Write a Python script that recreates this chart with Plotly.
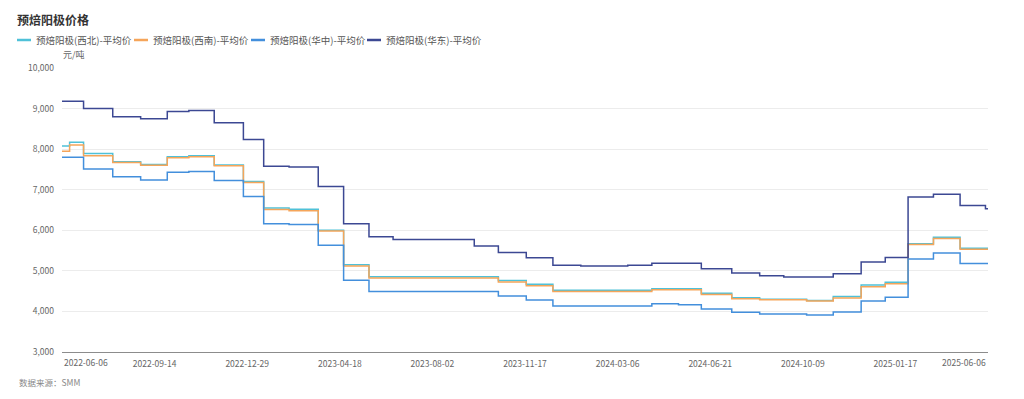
import plotly.graph_objects as go

# x positions are trading-day indices along the category axis (0 .. 730)
tick_idx = [0, 73, 146, 219, 292, 365, 438, 511, 584, 657, 730]
tick_labels = ["2022-06-06", "2022-09-14", "2022-12-29", "2023-04-18", "2023-08-02",
               "2023-11-17", "2024-03-06", "2024-06-21", "2024-10-09", "2025-01-17", "2025-06-06"]
x_end = 730

nw_x = [0, 6, 17, 40, 62, 83, 100, 120, 143, 159, 179, 202, 222, 242, 344, 366, 387,
        465, 504, 528, 550, 587, 608, 630, 649, 667, 687, 708]
nw_v = [8080, 8170, 7895, 7690, 7620, 7810, 7840, 7610, 7200, 6550, 6520, 6000, 5150, 4855,
        4760, 4670, 4520, 4560, 4445, 4340, 4300, 4270, 4365, 4650, 4720, 5670, 5830, 5560]

sw_x = [0, 6, 17, 40, 62, 83, 100, 120, 143, 159, 179, 202, 222, 242, 344, 366, 387,
        465, 504, 528, 550, 587, 608, 630, 649, 667, 687, 708]
sw_v = [7950, 8100, 7840, 7670, 7600, 7790, 7815, 7590, 7180, 6510, 6480, 5980, 5120, 4825,
        4725, 4635, 4490, 4535, 4420, 4315, 4290, 4255, 4330, 4610, 4680, 5650, 5800, 5530]

cc_x = [0, 17, 40, 62, 83, 100, 120, 143, 159, 179, 202, 222, 242, 344, 366, 387,
        465, 486, 504, 528, 550, 587, 608, 630, 649, 667, 687, 708]
cc_v = [7800, 7510, 7320, 7240, 7430, 7450, 7230, 6830, 6160, 6140, 5630, 4770, 4490,
        4380, 4280, 4135, 4190, 4165, 4060, 3980, 3935, 3910, 3985, 4260, 4350, 5290, 5440, 5180]

ea_x = [0, 17, 40, 62, 83, 100, 120, 143, 159, 179, 202, 222, 242, 261, 325, 344, 366, 387,
        409, 446, 465, 504, 528, 550, 569, 608, 630, 649, 667, 687, 708, 728]
ea_v = [9180, 9000, 8800, 8750, 8930, 8950, 8650, 8240, 7580, 7560, 7080, 6160, 5840, 5770,
        5610, 5450, 5320, 5140, 5120, 5140, 5190, 5050, 4950, 4880, 4850, 4930, 5220, 5330,
        6820, 6890, 6610, 6530]

names = ["预焙阳极(西北)-平均价", "预焙阳极(西南)-平均价", "预焙阳极(华中)-平均价", "预焙阳极(华东)-平均价"]
colors = ["#4fc1d8", "#f5a55a", "#438fdc", "#3c4893"]
xs_all = [nw_x, sw_x, cc_x, ea_x]
vs_all = [nw_v, sw_v, cc_v, ea_v]

FONT = "Noto Sans CJK SC"

# page-pixel helpers (the page body adds an 8px offset)
OFF = 8
PL, PR, PT, PB = 62, 988, 68, 352


def px(x):
    return (x - PL) / (PR - PL)


def py(y):
    return (PB - y) / (PB - PT)


fig = go.Figure()
for name, xs, vs, col in zip(names, xs_all, vs_all, colors):
    fig.add_trace(go.Scatter(
        x=list(xs) + [x_end], y=list(vs) + [vs[-1]], mode="lines", name=name,
        line=dict(color=col, width=1.5, shape="hv"),
    ))

# manual legend (short line symbols like the reference)
leg_line_x = [17, 134, 251, 367]
shapes = []
annotations = []
for i, (name, col) in enumerate(zip(names, colors)):
    x0 = leg_line_x[i]
    shapes.append(dict(type="line", xref="paper", yref="paper",
                       x0=px(x0), x1=px(x0 + 14), y0=py(40), y1=py(40),
                       line=dict(color=col, width=2.5)))
    annotations.append(dict(text=name, xref="paper", yref="paper", x=px(x0 + 17), y=py(40),
                            xanchor="left", yanchor="middle", showarrow=False,
                            font=dict(size=9.5, color="#555", family=FONT)))

annotations += [
    dict(text="元/吨", xref="paper", yref="paper", x=px(61), y=py(55), xanchor="left",
         yanchor="middle", showarrow=False, font=dict(size=9, color="#666")),
    dict(text=tick_labels[0], xref="x", yref="paper", x=tick_idx[0], y=py(362),
         xanchor="left", yanchor="middle", showarrow=False,
         font=dict(size=8.5, color="#666")),
    dict(text=tick_labels[-1], xref="x", yref="paper", x=tick_idx[-1], y=py(362),
         xanchor="right", yanchor="middle", showarrow=False,
         font=dict(size=8.5, color="#666")),
    dict(text="数据来源：SMM", xref="paper", yref="paper", x=px(17), y=py(382),
         xanchor="left", yanchor="middle", showarrow=False,
         font=dict(size=8.5, color="#888")),
]

W, H = 1024 - OFF, 399 - OFF
fig.update_layout(
    width=W, height=H,
    margin=dict(l=PL - OFF, r=W - (PR - OFF), t=PT - OFF, b=H - (PB - OFF), autoexpand=False),
    paper_bgcolor="white", plot_bgcolor="white",
    font=dict(family=FONT, size=9, color="#666"),
    title=dict(text="<b>预焙阳极价格</b>", xref="container", x=(17 - OFF) / W, xanchor="left",
               yref="container", y=1 - (21 - OFF) / H, yanchor="middle",
               font=dict(size=12, color="#333", family=FONT)),
    showlegend=False,
    shapes=shapes,
    annotations=annotations,
    xaxis=dict(range=[0, x_end], tickvals=tick_idx[1:-1], ticktext=tick_labels[1:-1],
               showgrid=False, zeroline=False, showline=True, linecolor="#8c8c8c",
               linewidth=1, ticks="", tickfont=dict(size=8.5, color="#666"),
               ticklabelstandoff=4, fixedrange=True),
    yaxis=dict(range=[3000, 10000], dtick=1000, tickformat=",", showgrid=True,
               gridcolor="#ececec", zeroline=False, showline=False, ticks="",
               tickfont=dict(size=8.5, color="#666"), ticklabelstandoff=7),
)

fig.write_html("out.html")
